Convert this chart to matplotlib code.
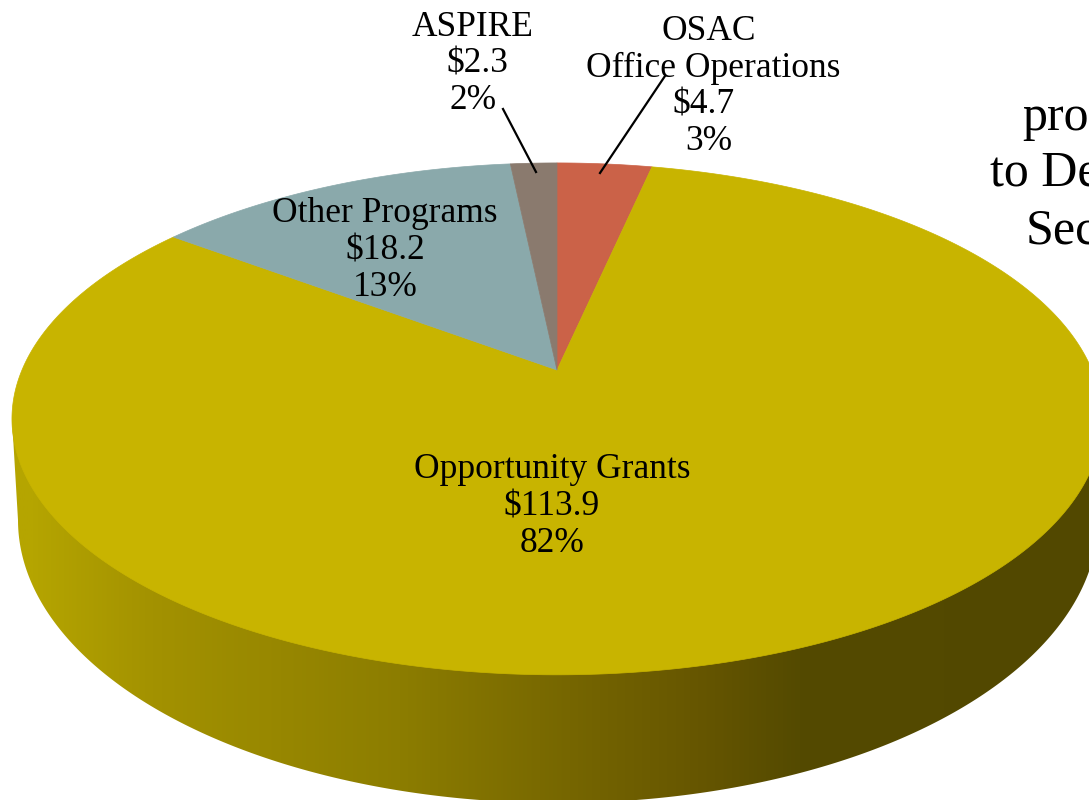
import numpy as np
import matplotlib
matplotlib.use("Agg")
import matplotlib.pyplot as plt
from matplotlib.patches import Polygon
from matplotlib.colors import LinearSegmentedColormap

# slices clockwise from 12 o'clock
names = ["OSAC\nOffice Operations", "Opportunity Grants", "Other Programs", "ASPIRE"]
values = [4.7, 113.9, 18.2, 2.3]
percents = ["3%", "82%", "13%", "2%"]
colors = ["#cb6248", "#c8b400", "#8aa9ab", "#8a7a6e"]
side_x = [0, 30, 150, 400, 600, 700, 800, 1089]
side_colors = ["#b5a500", "#b5a500", "#a39200", "#8c7d00", "#726200", "#665600", "#544a00", "#524800"]
cut_off_lines = ["pro", "to De", "Sec"]

plt.rcParams["font.family"] = ["Liberation Serif", "DejaVu Serif"]

# perspective of the pie top, pixels
cx, cy = 557, 370
rx = 535
k = 0.191
a = 246.6


def project(t):
    w = 1 + k * np.sin(t)
    return cx + rx * np.cos(t) / w, cy - a * np.sin(t) / w


fig = plt.figure(figsize=(10.89, 8.0), dpi=100)
ax = fig.add_axes([0, 0, 1, 1])
ax.set_xlim(0, 1089)
ax.set_ylim(800, 0)
ax.axis("off")

# side wall with gradient
tt = np.linspace(np.pi, 2 * np.pi, 300)
low_x = 558 + 540 * np.cos(tt)
low_y = 520 - 283 * np.sin(tt)
wall = np.column_stack([low_x, low_y])
wall = np.vstack([[12, 419], wall, [1102, 419]])
patch = Polygon(wall, closed=True, facecolor="none", edgecolor="none")
ax.add_patch(patch)
cmap = LinearSegmentedColormap.from_list(
    "side", [(x / 1089, c) for x, c in zip(side_x, side_colors)]
)
im = ax.imshow(
    np.linspace(0, 1, 512).reshape(1, -1),
    cmap=cmap,
    extent=[0, 1089, 800, 300],
    aspect="auto",
    zorder=1,
)
im.set_clip_path(patch)
ax.set_xlim(0, 1089)
ax.set_ylim(800, 0)

# top face, wedges from the values
start = np.pi / 2
total = sum(values)
for val, col in zip(values, colors):
    end = start - 2 * np.pi * val / total
    t = np.linspace(start, end, max(int(val * 8), 20))
    px, py = project(t)
    pts = np.vstack([[cx, cy], np.column_stack([px, py])])
    ax.add_patch(Polygon(pts, closed=True, facecolor=col, edgecolor=col, lw=0.5, zorder=2))
    start = end

# leader lines
ax.plot([503, 536], [109, 172], color="black", lw=1.6, zorder=3)
ax.plot([665, 600], [76, 173], color="black", lw=1.6, zorder=3)

# labels
label_x = {
    "OSAC": 709, "Office Operations": 713, "$4.7": 704, "3%": 709,
    "Opportunity Grants": 552, "$113.9": 552, "82%": 552,
    "Other Programs": 385, "$18.2": 385, "13%": 385,
    "ASPIRE": 473, "$2.3": 477, "2%": 473,
}
label_top = [32, 470, 214, 27]
for name, val, pct, top in zip(names, values, percents, label_top):
    lines = name.split("\n") + [f"${val}", pct]
    for i, line in enumerate(lines):
        ax.text(label_x[line], top + i * 36.6, line, ha="center", va="center",
                fontsize=25.5, color="black", zorder=4)

# text running off the right edge
for line, x, y in zip(cut_off_lines, [1022, 990, 1026], [118, 173, 231]):
    ax.text(x, y, line, ha="left", va="center", fontsize=36, color="black", clip_on=True, zorder=4)

fig.savefig("out.png", dpi=100)
